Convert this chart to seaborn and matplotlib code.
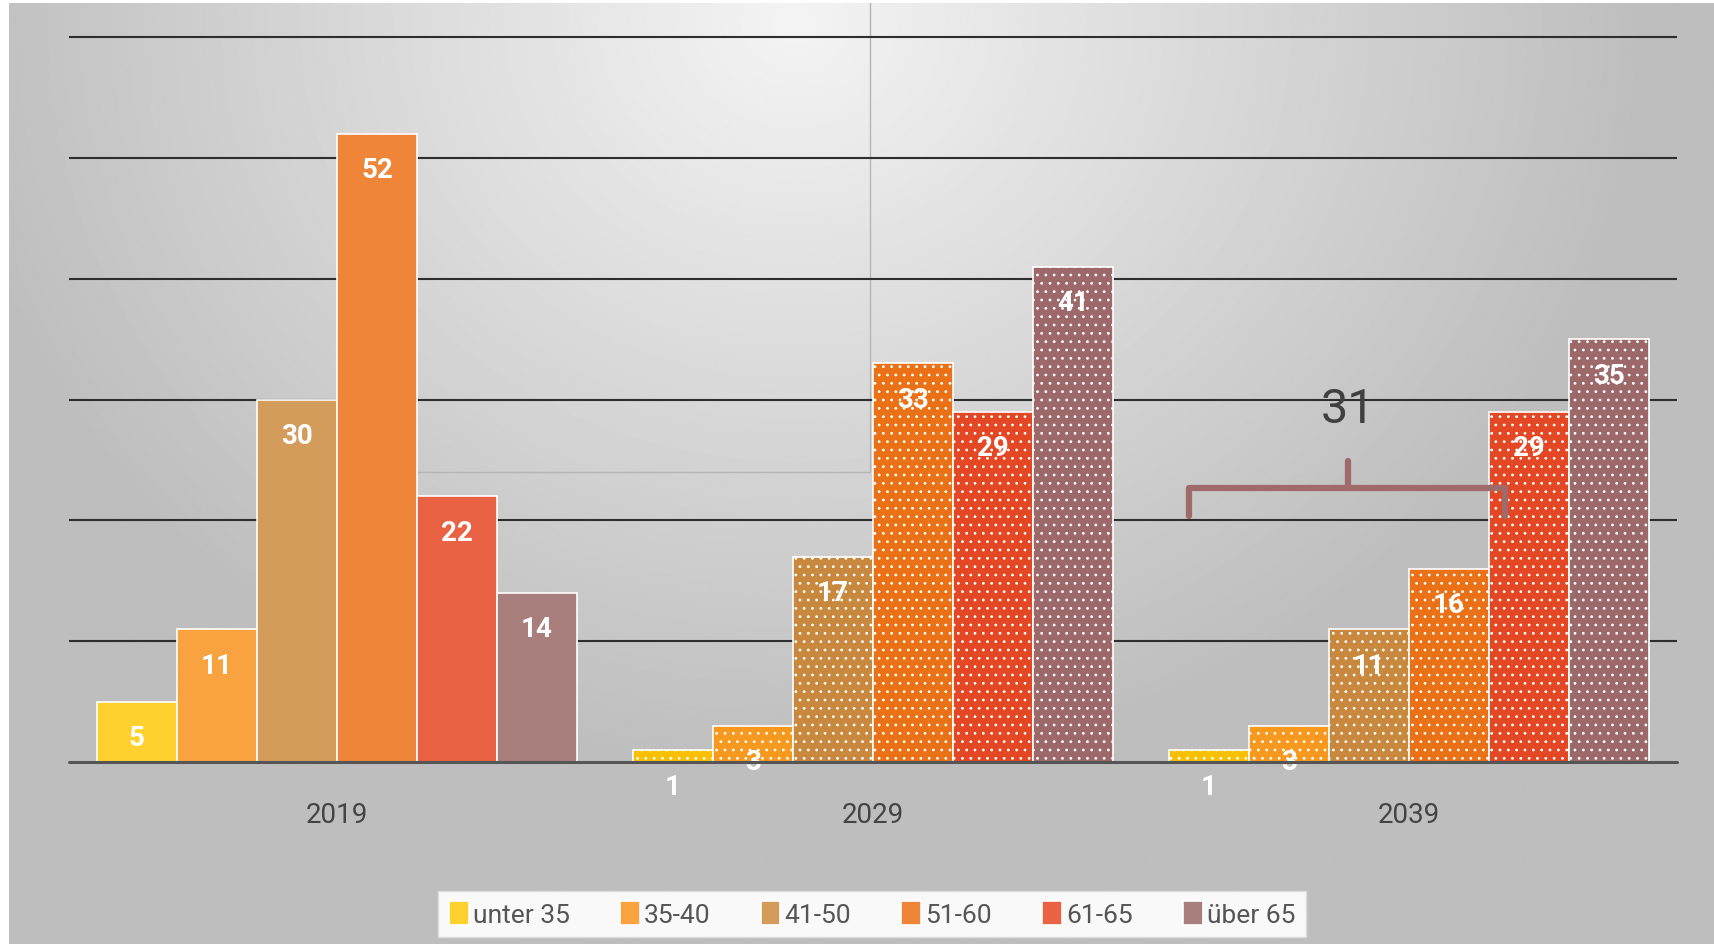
import numpy as np
import pandas as pd
import seaborn as sns
import matplotlib.pyplot as plt
from matplotlib.lines import Line2D

years = ['2019', '2029', '2039']
age_groups = ['unter 35', '35-40', '41-50', '51-60', '61-65', 'über 65']
values_2019 = [5, 11, 30, 52, 22, 14]
values_2029 = [1, 3, 17, 33, 29, 41]
values_2039 = [1, 3, 11, 16, 29, 35]

solid_colors = ['#FED12E', '#F8A33F', '#D39C5B', '#EE8538', '#E86243', '#A97F7E']
dotted_colors = ['#F8C000', '#F7991F', '#C8883E', '#EB7117', '#E44723', '#9C6869']

W, H = 1714, 945
PX_PER_UNIT = 12.08

sns.set_theme(style='white')
plt.rcParams['font.family'] = ['Roboto', 'DejaVu Sans']
plt.rcParams['hatch.linewidth'] = 0.8

df = pd.DataFrame({
    'Jahr': np.repeat(years, len(age_groups)),
    'Alter': age_groups * len(years),
    'Anzahl': values_2019 + values_2029 + values_2039,
})

fig = plt.figure(figsize=(W / 100, H / 100), dpi=100, facecolor='white')

# soft grey radial gradient behind everything
bg = fig.add_axes([9 / W, 0, 1 - 9 / W, 1 - 4 / H], zorder=-2)
yy, xx = np.mgrid[0:H, 0:W]
t = np.sqrt(((xx - 790) / 850.0) ** 2 + ((yy - 20) / 750.0) ** 2)
shade = 0.955 - 0.21 * np.clip(t, 0, 1)
bg.imshow(shade, cmap='gray', vmin=0, vmax=1, aspect='auto',
          extent=(0, 1, 0, 1), origin='upper')
bg.axis('off')

# faint frame left over in the original picture
fig.add_artist(Line2D([380 / W, 870 / W, 870 / W], [1 - 473 / H, 1 - 473 / H, 1 - 4 / H],
                      transform=fig.transFigure, color='#b5b5b5', lw=1, zorder=-1))

ymax = 60.5
top_px = 763 - ymax * PX_PER_UNIT
ax = fig.add_axes([69 / W, (H - 763) / H, (1677 - 69) / W, (763 - top_px) / H])
ax.set_facecolor('none')

sns.barplot(data=df, x='Jahr', y='Anzahl', hue='Alter', palette=solid_colors,
            width=0.896, edgecolor='white', linewidth=1.2, saturation=1,
            errorbar=None, ax=ax)

# projected years get the dotted fill; labels sit just inside the top of each bar
for k, cont in enumerate(ax.containers):
    for j, bar in enumerate(cont):
        if j > 0:
            bar.set_facecolor(dotted_colors[k])
            bar.set_hatch('..')
        h = bar.get_height()
        ax.annotate(f'{h:.0f}', (bar.get_x() + bar.get_width() / 2, h),
                    xytext=(0, -26), textcoords='offset points',
                    ha='center', va='center', color='white',
                    fontsize=20, fontweight='bold')

ax.set_xlim(-0.5, 2.5)
ax.set_ylim(0, ymax)
ax.set_yticks(range(10, 61, 10))
ax.set_yticklabels([])
ax.yaxis.grid(True, color='#2e2e2e', lw=1.5)
ax.xaxis.grid(False)
ax.axhline(0, color='#555555', lw=2.2, zorder=4, clip_on=False)
sns.despine(ax=ax, left=True, bottom=True)
ax.tick_params(axis='x', length=0, pad=28, labelsize=20, labelcolor='#444444')
ax.tick_params(axis='y', length=0)
ax.set_xlabel('')
ax.set_ylabel('')

# bracket over the first four 2039 groups
x0, x1, xm = 1.59, 2.18, 1.886
yb = 22.7
bracket_kw = dict(color='#9E6A6A', lw=4.5, solid_capstyle='round', solid_joinstyle='round')
ax.plot([x0, x0, x1, x1], [yb - 2.3, yb, yb, yb - 2.3], **bracket_kw)
ax.plot([xm, xm], [yb, yb + 2.2], **bracket_kw)
ax.text(xm, 29.2, str(sum(values_2039[:4])), ha='center', va='center',
        fontsize=35, color='#404040')

sns.move_legend(ax, 'center', bbox_to_anchor=(425 / W, 3 / H, 894 / W, 54 / H),
                bbox_transform=fig.transFigure, mode='expand', ncol=6, title=None,
                frameon=True, fontsize=19, handlelength=0.75, handleheight=1.0,
                handletextpad=0.15, borderpad=0.4, fancybox=False, framealpha=1,
                facecolor='#f9f9f9', edgecolor='#dddddd', labelcolor='#555555')

fig.savefig('out.png', dpi=100)
